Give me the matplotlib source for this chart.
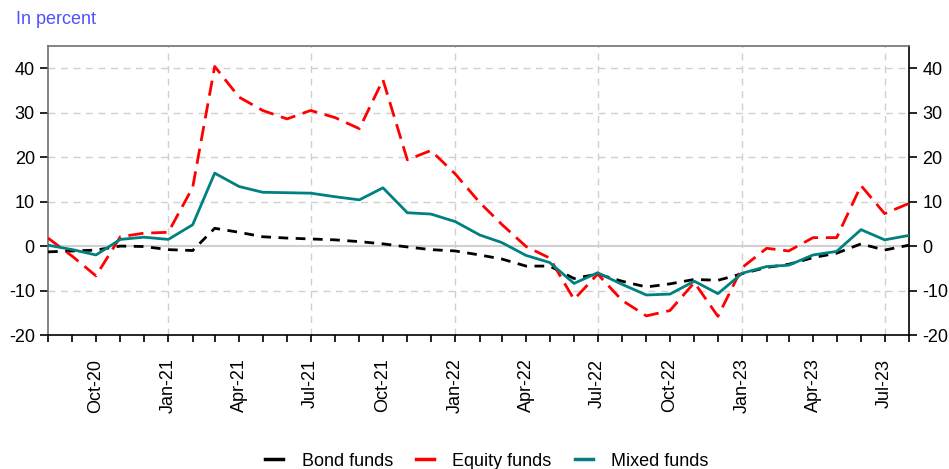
import pandas as pd
import matplotlib
matplotlib.use("Agg")
import matplotlib.pyplot as plt
import matplotlib.dates as mdates
from matplotlib.lines import Line2D

plt.rcParams["font.family"] = ["Liberation Sans", "DejaVu Sans"]
plt.rcParams["axes.unicode_minus"] = False

# monthly, Aug-20 .. Aug-23
months = pd.date_range("2020-08-01", "2023-08-01", freq="MS")

bond = [-1.3, -1.1, -0.9, 0.0, -0.1, -0.8, -1.0, 4.0, 3.1, 2.1, 1.8, 1.6,
        1.4, 1.0, 0.5, -0.2, -0.8, -1.1, -2.0, -2.9, -4.5, -4.5, -7.3, -6.3,
        -7.9, -9.2, -8.5, -7.5, -7.7, -6.2, -4.8, -4.1, -2.6, -1.6, 0.5, -0.9, 0.2]
equity = [1.8, -2.3, -6.7, 2.1, 2.9, 3.1, 13.2, 40.4, 33.5, 30.5, 28.6, 30.5,
          28.9, 26.4, 37.4, 19.4, 21.5, 16.2, 9.8, 4.9, -0.1, -2.7, -12.0, -6.3,
          -12.2, -15.7, -14.5, -8.2, -15.8, -4.8, -0.5, -1.1, 1.9, 1.9, 13.6, 7.3, 9.6]
mixed = [0.2, -0.8, -2.0, 1.5, 2.0, 1.5, 4.8, 16.4, 13.4, 12.1, 12.0, 11.9,
         11.1, 10.4, 13.1, 7.5, 7.2, 5.5, 2.5, 0.8, -2.1, -3.7, -8.4, -6.0,
         -8.6, -11.0, -10.8, -7.9, -10.7, -6.1, -4.6, -4.3, -2.0, -1.2, 3.7, 1.4, 2.4]

names = ["Bond funds", "Equity funds", "Mixed funds"]
colors = ["black", "#ff0000", "#008080"]

fig = plt.figure(figsize=(9.49, 4.69), dpi=100)
ax = fig.add_axes([48 / 949, 1 - 335 / 469, 861 / 949, 289 / 469])

ax.plot(months, bond, color=colors[0], lw=2, dashes=(3.5, 2.7), zorder=3)
ax.plot(months, equity, color=colors[1], lw=2, dashes=(5.5, 2.8), zorder=3)
ax.plot(months, mixed, color=colors[2], lw=2, zorder=4)

ax.set_xlim(months[0], months[-1])
ax.set_ylim(-20, 45)
ax.set_yticks([-20, -10, 0, 10, 20, 30, 40])

ax.xaxis.set_major_locator(mdates.MonthLocator(bymonth=[1, 4, 7, 10]))
ax.xaxis.set_major_formatter(mdates.DateFormatter("%b-%y"))
ax.xaxis.set_minor_locator(mdates.MonthLocator())
ax.tick_params(axis="x", which="both", direction="out", length=5, width=1.2,
               labelsize=13, labelrotation=90, pad=12)
ax.tick_params(axis="y", which="both", direction="out", length=6, width=1.2,
               labelsize=13, left=True, right=True, labelleft=True, labelright=True)

# grid: horizontal every 10, vertical every January and July
for v in [-10, 10, 20, 30, 40]:
    ax.axhline(v, color="#d0d0d0", lw=1, dashes=(5, 4), zorder=1)
ax.axhline(0, color="#d0d0d0", lw=1.5, zorder=1)
for d in pd.date_range("2021-01-01", "2023-07-01", freq="6MS"):
    ax.axvline(d, color="#d0d0d0", lw=1, dashes=(5, 4), zorder=1)

for s in ["left", "top"]:
    ax.spines[s].set_color("#707070")
for s in ["bottom", "right"]:
    ax.spines[s].set_color("black")
for s in ax.spines.values():
    s.set_linewidth(1.2)

fig.text(16 / 949, 1 - 20 / 469, "In percent", color="#5050ff", fontsize=13, va="center")

handles = [Line2D([], [], color=c, lw=2.5) for c in colors]
fig.legend(handles, names, loc="center", bbox_to_anchor=(487 / 949, 1 - 461 / 469), ncol=3,
           frameon=False, fontsize=13, handlelength=1.0, columnspacing=1.3, handletextpad=1.0)

fig.savefig("out.png", dpi=100)
